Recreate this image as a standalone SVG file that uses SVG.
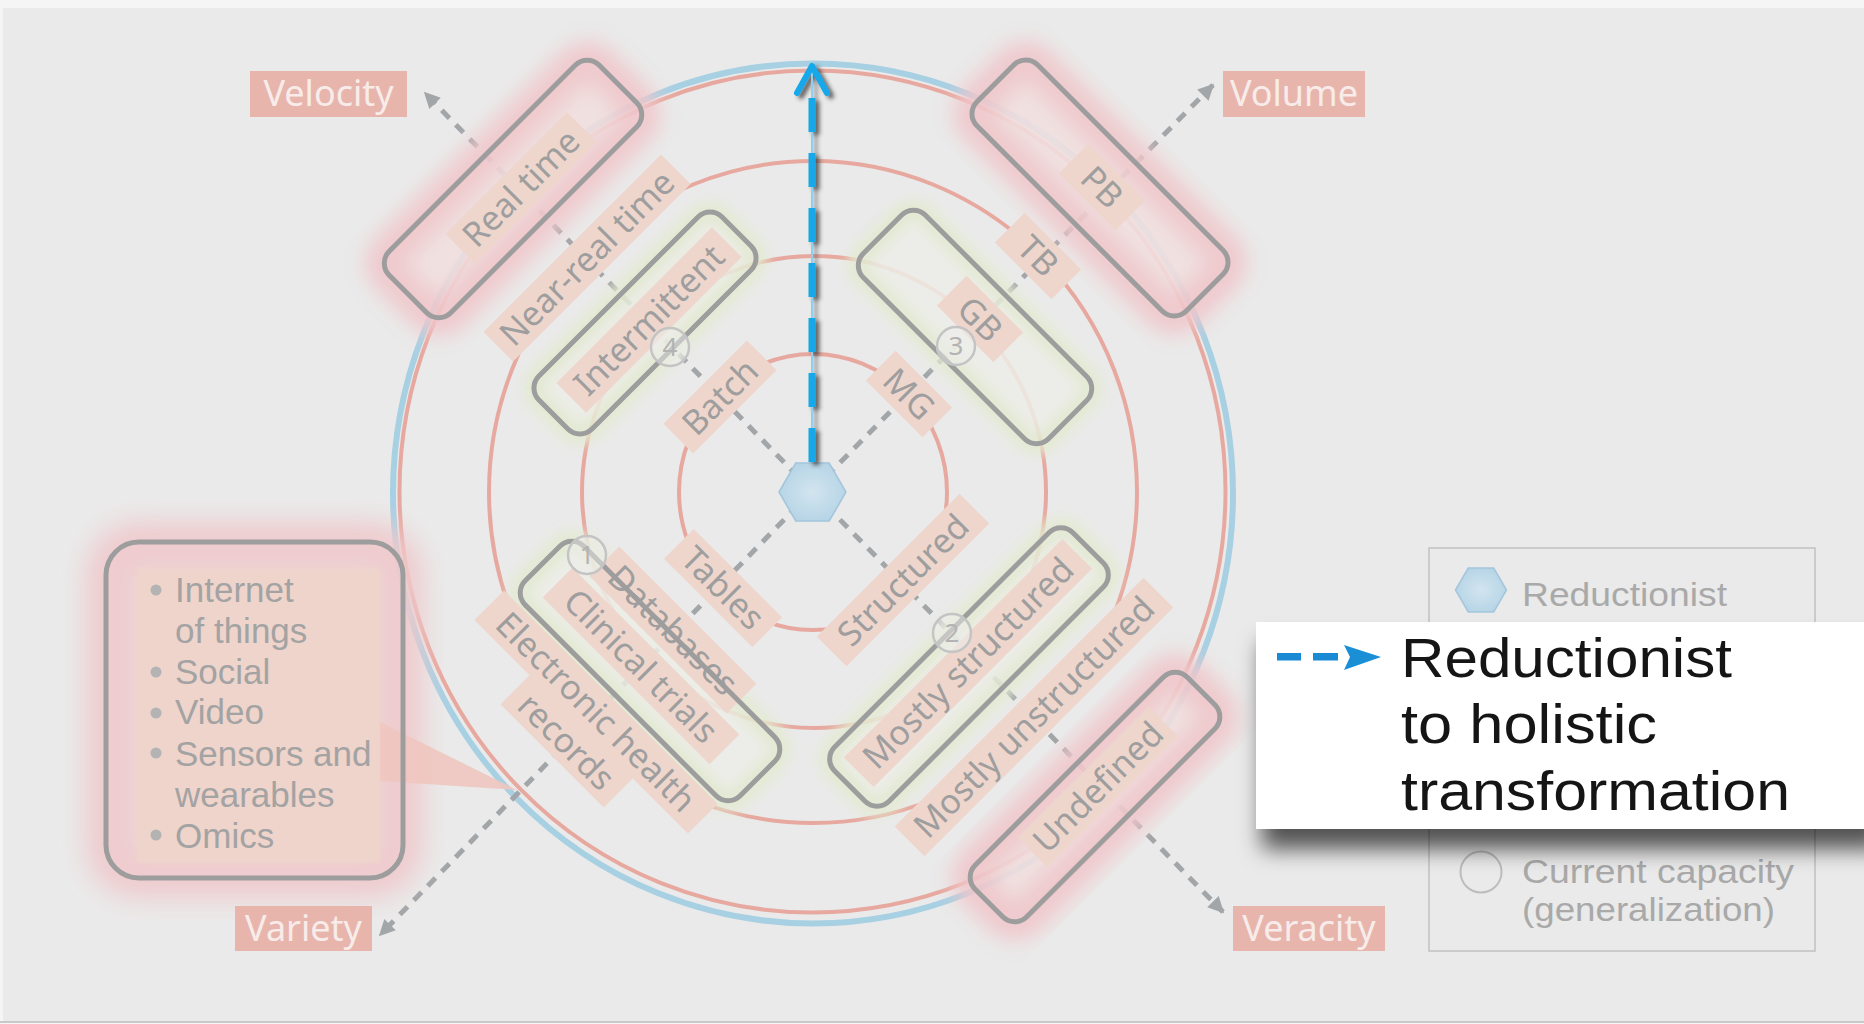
<svg xmlns="http://www.w3.org/2000/svg" width="1864" height="1024" viewBox="0 0 1864 1024">
<defs>
<style>
.ring{fill:none;stroke:#e7a99f;stroke-width:4}
.axis{fill:none;stroke:#a2a6a9;stroke-width:5;stroke-dasharray:11 9}
.lbl{fill:#eed6cd}
.lt{font-family:"Noto Sans","Open Sans",sans-serif;font-size:34px;fill:#9e9e9e;text-anchor:middle}
.box{fill:none;stroke:#9d9d9d;stroke-width:5}
.glowR{fill:#f1e0e0;stroke:#f0c6ca;stroke-width:38}
.glowG{fill:#edeee8;stroke:#e3ead0;stroke-width:22}
.axl{fill:#e8b5ad}
.axt{font-family:"Noto Sans","Open Sans",sans-serif;font-size:36px;fill:#f7ecea;text-anchor:middle}
.num{fill:#eeeeec;fill-opacity:0.5;stroke:#c4c4c4;stroke-width:2.5}
.numt{font-family:"Noto Sans",sans-serif;font-size:26px;fill:#b3b3b3;text-anchor:middle}
.vt{font-family:"Liberation Sans",Arial,sans-serif;font-size:35px;fill:#a3a3a3}
.lgt{font-family:"Liberation Sans",Arial,sans-serif;font-size:34px;fill:#a9a9a9}
.cot{font-family:"Liberation Sans",Arial,sans-serif;font-size:55px;fill:#151515}
</style>
<filter id="blur" x="-40%" y="-40%" width="180%" height="180%"><feGaussianBlur stdDeviation="10"/></filter>
<filter id="blurS" x="-40%" y="-40%" width="180%" height="180%"><feGaussianBlur stdDeviation="6"/></filter>
<filter id="blurBig" x="-40%" y="-40%" width="180%" height="180%"><feGaussianBlur stdDeviation="13"/></filter>
<filter id="soft" x="-10%" y="-10%" width="120%" height="120%"><feGaussianBlur stdDeviation="2"/></filter>
<filter id="bshadow" x="-50%" y="-10%" width="200%" height="120%"><feDropShadow dx="4" dy="3" stdDeviation="2" flood-color="#333" flood-opacity="0.75"/></filter>
<filter id="cshadow" x="-10%" y="-20%" width="120%" height="170%"><feDropShadow dx="6" dy="20" stdDeviation="11" flood-color="#000" flood-opacity="0.65"/></filter>
<radialGradient id="hexg" cx="0.5" cy="0.5" r="0.6"><stop offset="0" stop-color="#d2e5ef"/><stop offset="1" stop-color="#b2d2e5"/></radialGradient>
<marker id="ah" viewBox="0 0 10 10" refX="9" refY="5" markerWidth="4" markerHeight="3.2" orient="auto" markerUnits="strokeWidth"><path d="M0,0 L10,5 L0,10 z" fill="#a2a6a9"/></marker>
</defs>

<rect width="1864" height="1024" fill="#f5f5f5"/>
<rect x="3" y="8" width="1861" height="1013" fill="#eaeaea"/>
<line x1="0" y1="1022" x2="1864" y2="1022" stroke="#c9c9c9" stroke-width="2"/>

<g id="rings">
<ellipse cx="813" cy="493.5" rx="420" ry="430" fill="none" stroke="#a8d0e3" stroke-width="6"/>
<ellipse class="ring" cx="812.5" cy="491.5" rx="413" ry="421"/>
<ellipse class="ring" cx="813" cy="492" rx="324" ry="331"/>
<ellipse class="ring" cx="814" cy="492" rx="232" ry="236"/>
<ellipse class="ring" cx="813" cy="492" rx="134" ry="138"/>
</g>

<g id="connectors">
<line class="axis" x1="812" y1="491" x2="425" y2="93" marker-end="url(#ah)"/>
<line class="axis" x1="812" y1="491" x2="1213" y2="85" marker-end="url(#ah)"/>
<line class="axis" x1="812" y1="491" x2="380" y2="935" marker-end="url(#ah)"/>
<line class="axis" x1="812" y1="491" x2="1223" y2="912" marker-end="url(#ah)"/>
</g>

<g id="glows">
<rect class="glowR" filter="url(#blur)" opacity="0.9" x="-148.5" y="-43.5" width="297" height="87" rx="17" transform="translate(513,189) rotate(-45)"/>
<rect class="glowR" filter="url(#blur)" opacity="0.9" x="-148" y="-43" width="296" height="86" rx="17" transform="translate(1100,188) rotate(45)"/>
<rect class="glowR" filter="url(#blur)" opacity="0.9" x="-150" y="-36.5" width="300" height="73" rx="17" transform="translate(1095,797) rotate(-45)"/>
<rect class="glowG" filter="url(#blurS)" opacity="0.85" x="-129.5" y="-37.5" width="259" height="75" rx="17" transform="translate(645,323) rotate(-45)"/>
<rect class="glowG" filter="url(#blurS)" opacity="0.85" x="-131" y="-44" width="262" height="88" rx="17" transform="translate(975,327) rotate(45)"/>
<rect class="glowG" filter="url(#blurS)" opacity="0.85" x="-152" y="-41.5" width="304" height="83" rx="17" transform="translate(650,671) rotate(45)"/>
<rect class="glowG" filter="url(#blurS)" opacity="0.85" x="-168.5" y="-38.5" width="337" height="77" rx="17" transform="translate(969,667) rotate(-45)"/>
</g>

<g id="hexagon-center">
<polygon points="779,492 795.75,463 829.25,463 846,492 829.25,521 795.75,521" fill="url(#hexg)" stroke="#a3c6dc" stroke-width="1.5"/>
</g>

<g id="label-batch" transform="translate(720,397) rotate(-45)"><rect class="lbl" x="-59" y="-21" width="118" height="42"/><text class="lt" y="12">Batch</text></g>
<g id="label-intermittent" transform="translate(649,320) rotate(-45)"><rect class="lbl" x="-110" y="-21" width="220" height="42"/><text class="lt" y="12">Intermittent</text></g>
<g id="label-near-real-time" transform="translate(587,258) rotate(-45)"><rect class="lbl" x="-125.5" y="-21" width="251" height="42"/><text class="lt" y="12">Near-real time</text></g>
<g id="label-real-time" transform="translate(521,188) rotate(-45)"><rect class="lbl" x="-86" y="-21" width="172" height="42" fill="#f0d3cd"/><text class="lt" y="12">Real time</text></g>

<g id="label-mg" transform="translate(909,394) rotate(45)"><rect class="lbl" x="-40" y="-21" width="80" height="42"/><text class="lt" y="12">MG</text></g>
<g id="label-gb" transform="translate(980,319) rotate(45)"><rect class="lbl" x="-40" y="-21" width="80" height="42"/><text class="lt" y="12">GB</text></g>
<g id="label-tb" transform="translate(1038,256) rotate(45)"><rect class="lbl" x="-40" y="-21" width="80" height="42"/><text class="lt" y="12">TB</text></g>
<g id="label-pb" transform="translate(1102,187) rotate(45)"><rect class="lbl" x="-40" y="-21" width="80" height="42" fill="#f0d3cd"/><text class="lt" y="12">PB</text></g>

<g id="label-tables" transform="translate(723,588) rotate(45)"><rect class="lbl" x="-62.5" y="-21" width="125" height="42"/><text class="lt" y="12">Tables</text></g>
<g id="label-databases" transform="translate(673,630) rotate(45)"><rect class="lbl" x="-97" y="-21" width="194" height="42" fill="#ebd9cd"/><text class="lt" y="12" fill="#a9ae9e">Databases</text></g>
<g id="label-clinical-trials" transform="translate(641,666) rotate(45)"><rect class="lbl" x="-118" y="-21" width="236" height="42"/><text class="lt" y="12">Clinical trials</text></g>
<g id="label-ehr" transform="translate(596,712) rotate(45)"><rect class="lbl" x="-151" y="-21" width="302" height="42"/><rect class="lbl" x="-73" y="20" width="146" height="42"/><text class="lt" y="12">Electronic health</text><text class="lt" y="54">records</text></g>

<g id="label-structured" transform="translate(903,580) rotate(-45)"><rect class="lbl" x="-101" y="-21" width="202" height="42"/><text class="lt" y="12">Structured</text></g>
<g id="label-mostly-structured" transform="translate(968,663) rotate(-45)"><rect class="lbl" x="-154.5" y="-21" width="309" height="42"/><text class="lt" y="12">Mostly structured</text></g>
<g id="label-mostly-unstructured" transform="translate(1034,717) rotate(-45)"><rect class="lbl" x="-176" y="-21" width="352" height="42"/><text class="lt" y="12">Mostly unstructured</text></g>
<g id="label-undefined" transform="translate(1098,787) rotate(-45)"><rect class="lbl" x="-92.5" y="-21" width="185" height="42" fill="#f0cdc8"/><text class="lt" y="12">Undefined</text></g>

<g id="boxes">
<rect class="box" x="-148.5" y="-43.5" width="297" height="87" rx="17" transform="translate(513,189) rotate(-45)"/>
<rect class="box" x="-129.5" y="-37.5" width="259" height="75" rx="17" transform="translate(645,323) rotate(-45)"/>
<rect class="box" x="-148" y="-43" width="296" height="86" rx="17" transform="translate(1100,188) rotate(45)"/>
<rect class="box" x="-131" y="-44" width="262" height="88" rx="17" transform="translate(975,327) rotate(45)"/>
<rect class="box" x="-152" y="-41.5" width="304" height="83" rx="17" transform="translate(650,671) rotate(45)"/>
<rect class="box" x="-168.5" y="-38.5" width="337" height="77" rx="17" transform="translate(969,667) rotate(-45)"/>
<rect class="box" x="-150" y="-36.5" width="300" height="73" rx="17" transform="translate(1095,797) rotate(-45)"/>
</g>

<g id="num-1"><circle class="num" cx="587" cy="555" r="19"/><text class="numt" x="587" y="564">1</text></g>
<g id="num-2"><circle class="num" cx="952" cy="633" r="19"/><text class="numt" x="952" y="642">2</text></g>
<g id="num-3"><circle class="num" cx="956" cy="346" r="19"/><text class="numt" x="956" y="355">3</text></g>
<g id="num-4"><circle class="num" cx="670" cy="347" r="19"/><text class="numt" x="670" y="356">4</text></g>

<g id="variety-list">
<rect x="106" y="542" width="297" height="336" rx="33" fill="#f0d3d4" stroke="#efc9cc" stroke-width="40" filter="url(#blurBig)" opacity="0.95"/>
<rect x="137" y="568" width="243" height="295" fill="#efd4cc" filter="url(#soft)"/>
<polygon points="380,722 380,781 517,790" fill="#efc5bf" opacity="0.9"/>
<rect class="box" x="106" y="542" width="297" height="336" rx="33"/>
<g fill="#b3b3b3"><circle cx="156" cy="590" r="5.5"/><circle cx="156" cy="672" r="5.5"/><circle cx="156" cy="713" r="5.5"/><circle cx="156" cy="753" r="5.5"/><circle cx="156" cy="835" r="5.5"/></g>
<text class="vt" x="175" y="602">Internet</text>
<text class="vt" x="175" y="643">of things</text>
<text class="vt" x="175" y="684">Social</text>
<text class="vt" x="175" y="724">Video</text>
<text class="vt" x="175" y="766">Sensors and</text>
<text class="vt" x="175" y="807">wearables</text>
<text class="vt" x="175" y="848">Omics</text>
</g>

<g id="blue-arrow" filter="url(#bshadow)">
<line x1="812" y1="462" x2="812" y2="72" stroke="#8fd0f0" stroke-width="2"/>
<line x1="812" y1="462" x2="812" y2="95" stroke="#12a8e9" stroke-width="7" stroke-dasharray="34 21"/>
<path d="M797,93 L812,66 L827,93" fill="none" stroke="#12a8e9" stroke-width="6" stroke-linecap="round" stroke-linejoin="round"/>
</g>

<g id="axis-velocity"><rect class="axl" x="250" y="71" width="157" height="46"/><text class="axt" x="328.5" y="106">Velocity</text></g>
<g id="axis-volume"><rect class="axl" x="1223" y="71" width="142" height="46"/><text class="axt" x="1294" y="106">Volume</text></g>
<g id="axis-variety"><rect class="axl" x="235" y="906" width="137" height="45"/><text class="axt" x="303.5" y="941">Variety</text></g>
<g id="axis-veracity"><rect class="axl" x="1233" y="906" width="152" height="45"/><text class="axt" x="1309" y="941">Veracity</text></g>

<g id="legend">
<rect x="1429" y="548" width="386" height="403" fill="none" stroke="#cbcbcb" stroke-width="2"/>
<polygon points="1455.5,590 1468.25,568 1493.75,568 1506.5,590 1493.75,612 1468.25,612" fill="url(#hexg)" stroke="#a3c6dc" stroke-width="1.5"/>
<text class="lgt" x="1522" y="606" textLength="205" lengthAdjust="spacingAndGlyphs">Reductionist</text>
<circle cx="1481" cy="872" r="20.5" fill="none" stroke="#bdbdbd" stroke-width="2"/>
<text class="lgt" x="1522" y="883" textLength="272" lengthAdjust="spacingAndGlyphs">Current capacity</text>
<text class="lgt" x="1522" y="921" textLength="253" lengthAdjust="spacingAndGlyphs">(generalization)</text>
</g>

<g id="callout">
<rect x="1256" y="622" width="620" height="207" fill="#ffffff" filter="url(#cshadow)"/>
<g fill="#1a8ad4"><rect x="1277" y="653" width="24" height="7.5"/><rect x="1313" y="653" width="25" height="7.5"/></g>
<path d="M1344,645 L1381,657 L1344,670 L1350,657 z" fill="#1b8fd6"/>
<text class="cot" x="1401" y="677" textLength="331" lengthAdjust="spacingAndGlyphs">Reductionist</text>
<text class="cot" x="1401" y="743" textLength="256" lengthAdjust="spacingAndGlyphs">to holistic</text>
<text class="cot" x="1401" y="810" textLength="389" lengthAdjust="spacingAndGlyphs">transformation</text>
</g>
</svg>
